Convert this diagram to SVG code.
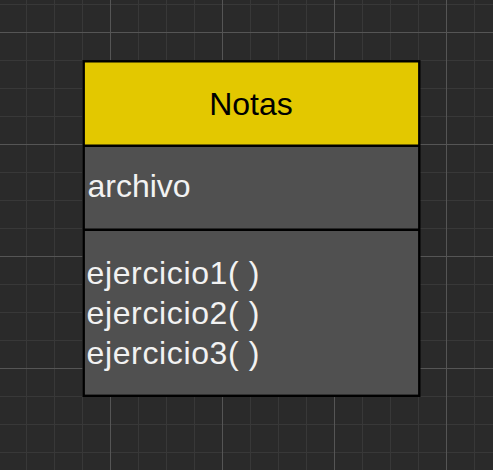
<svg xmlns="http://www.w3.org/2000/svg" width="493" height="470" viewBox="0 0 493 470">
  <style>
    .lbl { font-family: "Liberation Sans", Arial, sans-serif; font-size: 32px; }
    .head { fill: #000000; }
    .body { fill: #f2f2f2; }
    .edge { stroke: #000000; stroke-width: 2.4; fill: none; }
  </style>
  <defs>
    <pattern id="minor" x="26" y="4" width="28" height="28" patternUnits="userSpaceOnUse">
      <path d="M0 0.5 H28 M0.5 0 V28" stroke="#383838" stroke-width="1" fill="none"/>
    </pattern>
    <pattern id="major" x="110" y="32" width="112" height="112" patternUnits="userSpaceOnUse">
      <path d="M0 0.5 H112 M0.5 0 V112" stroke="#555555" stroke-width="1" fill="none"/>
    </pattern>
  </defs>
  <rect x="0" y="0" width="493" height="470" fill="#2a2a2a"/>
  <rect x="0" y="0" width="493" height="470" fill="url(#minor)"/>
  <rect x="0" y="0" width="493" height="470" fill="url(#major)"/>
  <g id="connectors"></g>
  <g id="node-notas">
    <rect x="83.7" y="61.3" width="335.6" height="84.4" fill="#e3c800"/>
    <rect x="83.7" y="145.7" width="335.6" height="250.3" fill="#505050"/>
    <line class="edge" x1="83.7" y1="145.7" x2="419.3" y2="145.7"/>
    <line class="edge" x1="83.7" y1="229.7" x2="419.3" y2="229.7"/>
    <rect class="edge" x="83.7" y="61.3" width="335.6" height="334.5"/>
    <text class="lbl head" x="251" y="114.5" text-anchor="middle">Notas</text>
    <text class="lbl body" x="87.5" y="196.7">archivo</text>
    <text class="lbl body" x="86.5" y="284" textLength="173" lengthAdjust="spacing">ejercicio1( )</text>
    <text class="lbl body" x="86.5" y="324" textLength="173" lengthAdjust="spacing">ejercicio2( )</text>
    <text class="lbl body" x="86.5" y="364" textLength="173" lengthAdjust="spacing">ejercicio3( )</text>
  </g>
</svg>
